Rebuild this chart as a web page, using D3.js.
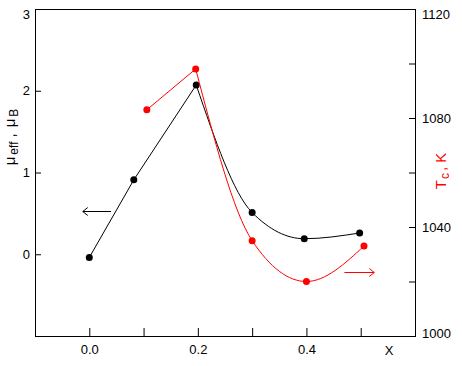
<!DOCTYPE html>
<html>
<head>
<meta charset="utf-8">
<script src="https://cdn.jsdelivr.net/npm/d3@7"></script>
<style>
  body { margin: 0; background: #fff; }
  svg text { font-family: "Liberation Sans", Arial, sans-serif; font-size: 13px; }
</style>
</head>
<body>
<div id="chart"></div>
<script>
// magnetic moment (left axis)
var muX = [0.0, 0.082, 0.197, 0.30, 0.396, 0.498];
var muY = [-0.04, 0.91, 2.07, 0.51, 0.19, 0.26];
// Curie temperature (right axis)
var tcX = [0.106, 0.196, 0.30, 0.40, 0.506];
var tcY = [1083, 1098, 1035, 1020, 1033];

var xTicks = [0.0, 0.1, 0.2, 0.3, 0.4, 0.5];
var xLabels = [0.0, 0.2, 0.4];
var leftTicks = [0, 1, 2, 3];
var rightTicks = [1000, 1020, 1040, 1060, 1080, 1100, 1120];
var rightLabels = [1000, 1040, 1080, 1120];

// arrows: [x0, x1, y] in data units
var muArrow = [0.04, -0.012, 0.53];
var tcArrow = [0.47, 0.525, 1023.5];

var width = 462, height = 366;
var pLeft = 35, pRight = 415, pTop = 9, pBottom = 336;

var svg = d3.select("#chart").append("svg")
    .attr("width", width)
    .attr("height", height);

var x = d3.scaleLinear().domain([-0.1, 0.6]).range([pLeft, pRight]);
var yL = d3.scaleLinear().domain([-1, 3]).range([pBottom, pTop]);
var yR = d3.scaleLinear().domain([1000, 1120]).range([pBottom, pTop]);

// axes
var gx = svg.append("g").attr("transform", "translate(0," + pBottom + ")")
    .call(d3.axisBottom(x).tickValues(xTicks).tickSize(-8).tickPadding(9)
        .tickFormat(d => xLabels.some(v => Math.abs(v - d) < 1e-9) ? d3.format(".1f")(d) : ""));
var gl = svg.append("g").attr("transform", "translate(" + pLeft + ",0)")
    .call(d3.axisLeft(yL).tickValues(leftTicks).tickSize(-6).tickPadding(5).tickFormat(d3.format("d")));
var gr = svg.append("g").attr("transform", "translate(" + pRight + ",0)")
    .call(d3.axisRight(yR).tickValues(rightTicks).tickSize(-6).tickPadding(7)
        .tickFormat(d => rightLabels.indexOf(d) >= 0 ? d : ""));

[gx, gl, gr].forEach(g => {
    g.select(".domain").remove();
    g.selectAll("text").attr("fill", "#000").style("font-size", "13px")
        .style("font-family", "'Liberation Sans', Arial, sans-serif");
    g.selectAll("line").attr("stroke", "#000");
});
gl.selectAll(".tick").filter(d => d === 3).select("text").attr("dy", "0.75em");
gr.selectAll(".tick").filter(d => d === 1120).select("text").attr("dy", "0.75em");
gr.selectAll(".tick").filter(d => d === 1000).select("text").attr("dy", "0.1em");

svg.append("rect")
    .attr("x", pLeft + 0.5).attr("y", pTop + 0.5)
    .attr("width", pRight - pLeft).attr("height", pBottom - pTop)
    .attr("fill", "none").attr("stroke", "#000");

// axis titles
svg.append("text").attr("x", 389).attr("y", 355).attr("text-anchor", "middle").text("X");

var muLab = svg.append("text")
    .attr("transform", "translate(15,137) rotate(-90)")
    .attr("text-anchor", "middle")
    .style("font-size", "15px");
muLab.append("tspan").text("\u03bc");
muLab.append("tspan").attr("dx", 2).attr("dy", 3).style("font-size", "12px").text("eff");
muLab.append("tspan").attr("dx", 4).attr("dy", -3).text(",");
muLab.append("tspan").attr("dx", 6).text("\u03bc");
muLab.append("tspan").attr("dx", 2).attr("dy", 3).style("font-size", "12px").text("B");

var tcLab = svg.append("text")
    .attr("transform", "translate(446,171) rotate(-90)")
    .attr("text-anchor", "middle").attr("fill", "red")
    .style("font-size", "15px");
tcLab.append("tspan").text("T");
tcLab.append("tspan").attr("dx", 1).attr("dy", 3).style("font-size", "12px").text("c");
tcLab.append("tspan").attr("dx", 2).attr("dy", -3).text(",");
tcLab.append("tspan").attr("dx", 4).text("K");

// series
var mu = muX.map((d, i) => [d, muY[i]]);
var tc = tcX.map((d, i) => [d, tcY[i]]);

function drawSeries(pts, yScale, color) {
    var peak = pts.indexOf(pts.reduce((a, b) => b[1] > a[1] ? b : a));
    var straight = d3.line().x(d => x(d[0])).y(d => yScale(d[1]));
    var curved = d3.line().x(d => x(d[0])).y(d => yScale(d[1])).curve(d3.curveMonotoneX);
    svg.append("path").attr("d", straight(pts.slice(0, peak + 1)))
        .attr("fill", "none").attr("stroke", color).attr("stroke-width", 1);
    svg.append("path").attr("d", curved(pts.slice(peak)))
        .attr("fill", "none").attr("stroke", color).attr("stroke-width", 1);
    svg.append("g").selectAll("circle").data(pts).enter().append("circle")
        .attr("cx", d => x(d[0])).attr("cy", d => yScale(d[1]))
        .attr("r", 3.5).attr("fill", color);
}
drawSeries(mu, yL, "#000");
drawSeries(tc, yR, "#ff0000");

// arrows
function arrow(a, yScale, color) {
    var x0 = x(a[0]), x1 = x(a[1]), yy = Math.round(yScale(a[2])) + 0.5;
    var dir = x1 > x0 ? -1 : 1;
    svg.append("path")
        .attr("d", "M" + x0 + "," + yy + "H" + x1 +
            "M" + (x1 + dir * 5) + "," + (yy - 4) + "L" + x1 + "," + yy + "L" + (x1 + dir * 5) + "," + (yy + 4))
        .attr("fill", "none").attr("stroke", color).attr("stroke-width", 1);
}
arrow(muArrow, yL, "#000");
arrow(tcArrow, yR, "#ff0000");
</script>
</body>
</html>
